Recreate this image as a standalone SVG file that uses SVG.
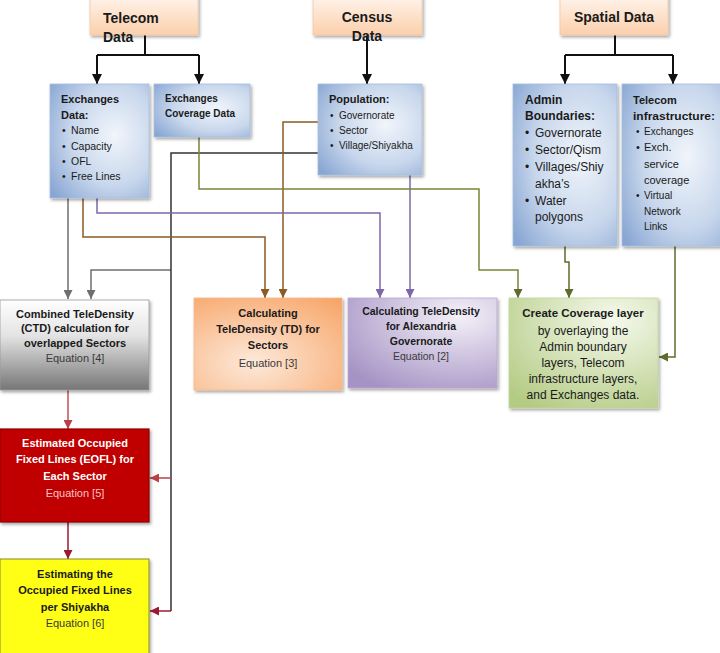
<svg xmlns="http://www.w3.org/2000/svg" width="720" height="653" viewBox="0 0 720 653">
<defs>
<style>
text{font-family:"Liberation Sans",Arial,sans-serif;fill:#1a1a1a}
.hd{font-size:14px;font-weight:bold}
.b{font-weight:bold}
.c{text-anchor:middle}
.s10{font-size:10px}
.s11{font-size:11px}
.s12{font-size:12px}
.eq{font-weight:normal;fill:#3a3a3a}
.box{filter:url(#sh)}
.ln{fill:none}
</style>
<filter id="sh" x="-10%" y="-10%" width="125%" height="130%"><feDropShadow dx="1.5" dy="2" stdDeviation="1.5" flood-color="#000" flood-opacity="0.35"/></filter>
<linearGradient id="gPeach" x1="0" y1="0" x2="0" y2="1"><stop offset="0" stop-color="#fff4ec"/><stop offset="1" stop-color="#fbcfab"/></linearGradient>
<radialGradient id="gBlue" cx="0.65" cy="0.45" r="0.8"><stop offset="0" stop-color="#f1f5fb"/><stop offset="0.55" stop-color="#c8d7ec"/><stop offset="1" stop-color="#88a6d3"/></radialGradient>
<linearGradient id="gGray" x1="0" y1="0" x2="0" y2="1"><stop offset="0" stop-color="#ffffff"/><stop offset="0.4" stop-color="#e3e3e3"/><stop offset="1" stop-color="#767676"/></linearGradient>
<radialGradient id="gOrange" cx="0.4" cy="0.7" r="0.9"><stop offset="0" stop-color="#fde9da"/><stop offset="1" stop-color="#f7a466"/></radialGradient>
<radialGradient id="gPurple" cx="0.75" cy="0.2" r="0.95"><stop offset="0" stop-color="#f4f1f8"/><stop offset="1" stop-color="#a693c5"/></radialGradient>
<radialGradient id="gGreen" cx="0.7" cy="0.2" r="0.95"><stop offset="0" stop-color="#f5f9ec"/><stop offset="1" stop-color="#b4cb84"/></radialGradient>
<marker id="aK" viewBox="0 0 10 10" refX="10" refY="5" markerWidth="10" markerHeight="10" markerUnits="userSpaceOnUse" orient="auto"><path d="M0,0 L10,5 L0,10 z" fill="#111"/></marker>
<marker id="aG" viewBox="0 0 10 10" refX="10" refY="5" markerWidth="9" markerHeight="9" markerUnits="userSpaceOnUse" orient="auto"><path d="M0,0 L10,5 L0,10 z" fill="#6f6f6f"/></marker>
<marker id="aB" viewBox="0 0 10 10" refX="10" refY="5" markerWidth="9" markerHeight="9" markerUnits="userSpaceOnUse" orient="auto"><path d="M0,0 L10,5 L0,10 z" fill="#8c5a22"/></marker>
<marker id="aP" viewBox="0 0 10 10" refX="10" refY="5" markerWidth="9" markerHeight="9" markerUnits="userSpaceOnUse" orient="auto"><path d="M0,0 L10,5 L0,10 z" fill="#7e67a8"/></marker>
<marker id="aO" viewBox="0 0 10 10" refX="10" refY="5" markerWidth="9" markerHeight="9" markerUnits="userSpaceOnUse" orient="auto"><path d="M0,0 L10,5 L0,10 z" fill="#5d6b2c"/></marker>
<marker id="aR" viewBox="0 0 10 10" refX="10" refY="5" markerWidth="9" markerHeight="9" markerUnits="userSpaceOnUse" orient="auto"><path d="M0,0 L10,5 L0,10 z" fill="#b8404a"/></marker>
<marker id="aD" viewBox="0 0 10 10" refX="10" refY="5" markerWidth="9" markerHeight="9" markerUnits="userSpaceOnUse" orient="auto"><path d="M0,0 L10,5 L0,10 z" fill="#9a1a30"/></marker>
</defs>
<rect width="720" height="653" fill="#ffffff"/>

<g id="connectors" class="ln">
<path d="M145,35 V55 M97,55 H199" stroke="#111" stroke-width="2"/>
<path d="M97,55 V84" stroke="#111" stroke-width="2" marker-end="url(#aK)"/>
<path d="M199,55 V84" stroke="#111" stroke-width="2" marker-end="url(#aK)"/>
<path d="M367,35 V84" stroke="#111" stroke-width="2" marker-end="url(#aK)"/>
<path d="M615,35 V55 M565,55 H673" stroke="#111" stroke-width="2"/>
<path d="M565,55 V84" stroke="#111" stroke-width="2" marker-end="url(#aK)"/>
<path d="M673,55 V84" stroke="#111" stroke-width="2" marker-end="url(#aK)"/>

<path d="M68,198 V299" stroke="#6f6f6f" stroke-width="1.5" marker-end="url(#aG)"/>
<path d="M171,270 H91 V299" stroke="#6f6f6f" stroke-width="1.5" marker-end="url(#aG)"/>
<path d="M318,153 H171 V611" stroke="#333" stroke-width="1.5"/>
<path d="M171,478 H150" stroke="#b8404a" stroke-width="1.5" marker-end="url(#aR)"/>
<path d="M171,611 H150" stroke="#9a1a30" stroke-width="1.5" marker-end="url(#aD)"/>

<path d="M83,198 V237 H265 V298" stroke="#8c5a22" stroke-width="1.5" marker-end="url(#aB)"/>
<path d="M318,122 H283 V298" stroke="#8c5a22" stroke-width="1.5" marker-end="url(#aB)"/>
<path d="M97,198 V213 H380 V298" stroke="#7e67a8" stroke-width="1.5" marker-end="url(#aP)"/>
<path d="M410,175 V298" stroke="#7e67a8" stroke-width="1.5" marker-end="url(#aP)"/>
<path d="M199,137 V189 H479 V270 H518 V298" stroke="#77863a" stroke-width="1.5" marker-end="url(#aO)"/>
<path d="M565,246 V262 H569 V298" stroke="#5d6b2c" stroke-width="1.5" marker-end="url(#aO)"/>
<path d="M675,246 V357 H659" stroke="#5d6b2c" stroke-width="1.5" marker-end="url(#aO)"/>

<path d="M68,390 V429" stroke="#c0505a" stroke-width="1.5" marker-end="url(#aR)"/>
<path d="M68,522 V559" stroke="#9a1a30" stroke-width="1.5" marker-end="url(#aD)"/>
</g>

<g id="telecom-data">
<rect class="box" x="90" y="-4" width="108" height="39" fill="url(#gPeach)" stroke="#f3c9a8" stroke-width="0.8"/>
<text class="hd" x="103" y="23">Telecom</text>
<text class="hd" x="103" y="42">Data</text>
</g>
<g id="census-data">
<rect class="box" x="313" y="-4" width="109" height="39" fill="url(#gPeach)" stroke="#f3c9a8" stroke-width="0.8"/>
<text class="hd c" x="367" y="22">Census</text>
<text class="hd c" x="367" y="41">Data</text>
</g>
<g id="spatial-data">
<rect class="box" x="560" y="-4" width="108" height="39" fill="url(#gPeach)" stroke="#f3c9a8" stroke-width="0.8"/>
<text class="hd c" x="614" y="22">Spatial Data</text>
</g>

<g id="exchanges-data">
<rect class="box" x="50" y="84" width="99" height="114" fill="url(#gBlue)" stroke="#a9bedc" stroke-width="0.8"/>
<text class="b s11" x="61" y="103">Exchanges</text>
<text class="b s11" x="61" y="119">Data:</text>
<g style="font-size:10.5px">
<text x="62" y="134">•</text><text x="71" y="134">Name</text>
<text x="62" y="150">•</text><text x="71" y="150">Capacity</text>
<text x="62" y="165">•</text><text x="71" y="165">OFL</text>
<text x="62" y="180">•</text><text x="71" y="180">Free Lines</text>
</g>
</g>

<g id="exchanges-coverage">
<rect class="box" x="154" y="84" width="96" height="53" fill="url(#gBlue)" stroke="#a9bedc" stroke-width="0.8"/>
<text class="b s10" x="165" y="102">Exchanges</text>
<text class="b s10" x="165" y="117">Coverage Data</text>
</g>

<g id="population">
<rect class="box" x="318" y="84" width="104" height="91" fill="url(#gBlue)" stroke="#a9bedc" stroke-width="0.8"/>
<text class="b s11" x="329" y="103">Population:</text>
<g class="s10">
<text x="330" y="119">•</text><text x="339" y="119">Governorate</text>
<text x="330" y="134">•</text><text x="339" y="134">Sector</text>
<text x="330" y="149">•</text><text x="339" y="149">Village/Shiyakha</text>
</g>
</g>

<g id="admin-boundaries">
<rect class="box" x="513" y="84" width="104" height="162" fill="url(#gBlue)" stroke="#a9bedc" stroke-width="0.8"/>
<text class="b s12" x="525" y="104">Admin</text>
<text class="b s12" x="525" y="120">Boundaries:</text>
<g class="s12">
<text x="525" y="137">•</text><text x="535" y="137">Governorate</text>
<text x="525" y="154">•</text><text x="535" y="154">Sector/Qism</text>
<text x="525" y="171">•</text><text x="535" y="171">Villages/Shiy</text>
<text x="535" y="188">akha’s</text>
<text x="525" y="205">•</text><text x="535" y="205">Water</text>
<text x="535" y="221">polygons</text>
</g>
</g>

<g id="telecom-infrastructure">
<rect class="box" x="622" y="84" width="100" height="162" fill="url(#gBlue)" stroke="#a9bedc" stroke-width="0.8"/>
<text class="b s11" x="633" y="104">Telecom</text>
<text class="b s11" x="633" y="120" textLength="82" lengthAdjust="spacingAndGlyphs">infrastructure:</text>
<text x="636" y="135" class="s10">•</text><text x="644" y="135" class="s10">Exchanges</text>
<text x="636" y="151" class="s11">•</text><text x="644" y="151" class="s11">Exch.</text>
<text x="644" y="168" class="s11">service</text>
<text x="644" y="184" class="s11">coverage</text>
<text x="636" y="199" class="s10">•</text><text x="644" y="199" class="s10">Virtual</text>
<text x="644" y="215" class="s10">Network</text>
<text x="644" y="230" class="s10">Links</text>
</g>

<g id="ctd">
<rect class="box" x="0" y="300" width="149" height="90" fill="url(#gGray)" stroke="#9a9a9a" stroke-width="0.8"/>
<text class="b s11 c" x="75" y="318">Combined TeleDensity</text>
<text class="b s11 c" x="75" y="332">(CTD) calculation for</text>
<text class="b s11 c" x="75" y="347">overlapped Sectors</text>
<text class="s11 c eq" x="75" y="362">Equation [4]</text>
</g>

<g id="td-sectors">
<rect class="box" x="194" y="298" width="148" height="92" fill="url(#gOrange)" stroke="#f5b98c" stroke-width="0.8"/>
<text class="b s11 c" x="268" y="317">Calculating</text>
<text class="b s11 c" x="268" y="333">TeleDensity (TD) for</text>
<text class="b s11 c" x="268" y="349">Sectors</text>
<text class="s11 c eq" x="268" y="367">Equation [3]</text>
</g>

<g id="td-alexandria">
<rect class="box" x="348" y="298" width="149" height="90" fill="url(#gPurple)" stroke="#b7a9d1" stroke-width="0.8"/>
<text class="b c" x="421" y="315" style="font-size:10.5px">Calculating TeleDensity</text>
<text class="b c" x="421" y="330" style="font-size:10.5px">for Alexandria</text>
<text class="b c" x="421" y="345" style="font-size:10.5px">Governorate</text>
<text class="c eq" x="421" y="360" style="font-size:10.5px">Equation [2]</text>
</g>

<g id="coverage-layer">
<rect class="box" x="509" y="298" width="149" height="110" fill="url(#gGreen)" stroke="#c3d59c" stroke-width="0.8"/>
<text class="b c" x="583" y="317" style="font-size:11.5px">Create Coverage layer</text>
<g class="s12 c">
<text x="583" y="335">by overlaying the</text>
<text x="583" y="351">Admin boundary</text>
<text x="583" y="367">layers, Telecom</text>
<text x="583" y="383">infrastructure layers,</text>
<text x="583" y="399">and Exchanges data.</text>
</g>
</g>

<g id="eofl">
<rect class="box" x="0" y="429" width="149" height="93" fill="#c00000" stroke="#8a0000" stroke-width="1.2"/>
<text class="b s11 c" x="75" y="447" style="fill:#ffffff">Estimated Occupied</text>
<text class="b s11 c" x="75" y="463" style="fill:#ffffff">Fixed Lines (EOFL) for</text>
<text class="b s11 c" x="75" y="480" style="fill:#ffffff">Each Sector</text>
<text class="s11 c" x="75" y="497" style="fill:#f6c4c4">Equation [5]</text>
</g>

<g id="shiyakha">
<rect class="box" x="0" y="559" width="149" height="100" fill="#ffff14" stroke="#8a8a2a" stroke-width="1"/>
<text class="b s11 c" x="75" y="578">Estimating the</text>
<text class="b s11 c" x="75" y="594">Occupied Fixed Lines</text>
<text class="b s11 c" x="75" y="611">per Shiyakha</text>
<text class="s11 c eq" x="75" y="627">Equation [6]</text>
</g>
</svg>
